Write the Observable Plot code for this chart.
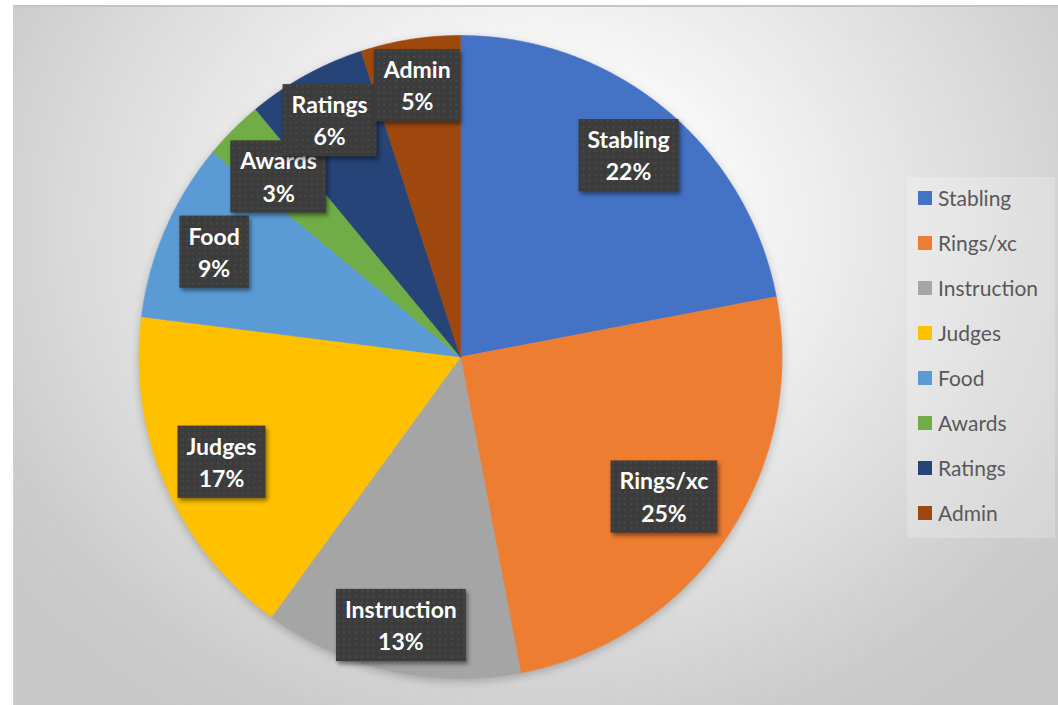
<!DOCTYPE html>
<html><head><meta charset="utf-8">
<script src="https://cdn.jsdelivr.net/npm/d3@7"></script>
<script src="https://cdn.jsdelivr.net/npm/@observablehq/plot@0.6"></script>
<style>
html,body{margin:0;padding:0;background:#fff;}
#wrap{position:relative;width:1058px;height:705px;overflow:hidden;}
#bg{position:absolute;left:13px;top:5px;width:1045px;height:700px;box-sizing:border-box;border-top:2px solid #c4c4c4;border-left:1px solid #d0d0d0;
 background:radial-gradient(ellipse 660px 580px at 527px 220px,#ffffff 0%,#f6f6f6 30%,#e0e0e0 62%,#cdcdcd 88%,#c8c8c8 100%);}
#wrap > svg{position:absolute;left:0;top:0;}
#legendbox{position:absolute;left:907px;top:177px;width:148px;height:361px;background:rgba(255,255,255,0.22);}
#legendbox .lg-swatches{margin:-2px 0 0 0;padding:0 0 0 11px;font-family:Lato,sans-serif;font-size:21px;color:#595959;columns:auto;}
#legendbox .lg-swatch{height:45px;display:flex;align-items:center;padding:0;margin:0;}
#legendbox .lg-swatch svg{margin-right:6px;flex-shrink:0;position:static;}
</style>
</head><body>
<div id="wrap"><div id="bg"></div><div id="legendbox"></div></div>
<script>
const categories = ["Stabling","Rings/xc","Instruction","Judges","Food","Awards","Ratings","Admin"];
const shares = [22,25,13,17,9,3,6,5];
const colors = ["#4472C4","#ED7D31","#A5A5A5","#FFC000","#5B9BD5","#70AD47","#264478","#9E480E"];

// layout tweaks (label distance from centre, as fraction of radius)
const labelRadius = {"Stabling":0.82,"Rings/xc":0.765,"Instruction":0.85,"Judges":0.81,"Food":0.835,"Awards":0.80,"Ratings":0.845,"Admin":0.86};

const arcs = d3.pie().sort(null).value(d => d)(shares);
const slicePoints = [];
arcs.forEach((a, i) => {
  const cat = categories[i];
  slicePoints.push({cat, x: 0, y: 0});
  const n = Math.max(2, Math.ceil((a.endAngle - a.startAngle) / 0.004));
  for (let k = 0; k <= n; k++) {
    const t = a.startAngle + (a.endAngle - a.startAngle) * k / n;
    slicePoints.push({cat, x: Math.sin(t), y: Math.cos(t)});
  }
});
const labels = arcs.map((a, i) => {
  const m = (a.startAngle + a.endAngle) / 2;
  const r = labelRadius[categories[i]];
  return {cat: categories[i], text: `${categories[i]}\n${shares[i]}%`, x: r * Math.sin(m), y: r * Math.cos(m)};
});

const chart = Plot.plot({
  width: 1058, height: 705, margin: 0,
  style: {background: "transparent", overflow: "visible"},
  x: {domain: [-1, 1], range: [138.5, 781.5], axis: null},
  y: {domain: [-1, 1], range: [678, 35], axis: null},
  color: {domain: categories, range: colors},
  marks: [
    Plot.line(slicePoints, {x: "x", y: "y", z: "cat", fill: "cat", stroke: "cat", strokeWidth: 0.6, curve: "linear-closed"}),
    Plot.text(labels, {x: "x", y: "y", text: "text", fill: "white", fontSize: 23, fontWeight: "bold", fontFamily: "Lato", lineHeight: 1.4})
  ]
});
document.getElementById("wrap").appendChild(chart);

const svg = d3.select(chart);
const defs = svg.insert("defs", ":first-child");
const pat = defs.append("pattern").attr("id", "dots").attr("width", 6).attr("height", 6).attr("patternUnits", "userSpaceOnUse");
pat.append("rect").attr("width", 6).attr("height", 6).attr("fill", "#3c3c3c");
pat.append("circle").attr("cx", 3).attr("cy", 3).attr("r", 0.9).attr("fill", "#4e4e4e");
svg.select('g[aria-label="line"]').style("filter", "drop-shadow(0px 3px 4px rgba(0,0,0,0.22))");
svg.selectAll('g[aria-label="text"] text').each(function() {
  const b = this.getBBox();
  const padX = 9, padY = 6;
  const r = d3.select(this.parentNode).insert("rect", () => this)
    .attr("x", b.x - padX).attr("y", b.y - padY)
    .attr("width", b.width + 2 * padX).attr("height", b.height + 2 * padY)
    .attr("fill", "url(#dots)")
    .style("filter", "drop-shadow(2px 3px 2px rgba(0,0,0,0.45))");
  const tr = this.getAttribute("transform");
  if (tr) r.attr("transform", tr);
});

const legend = Plot.legend({color: {type: "ordinal", domain: categories, range: colors}, legend: "swatches", columns: 1, swatchSize: 14, className: "lg"});
document.getElementById("legendbox").appendChild(legend);
</script>
</body></html>
